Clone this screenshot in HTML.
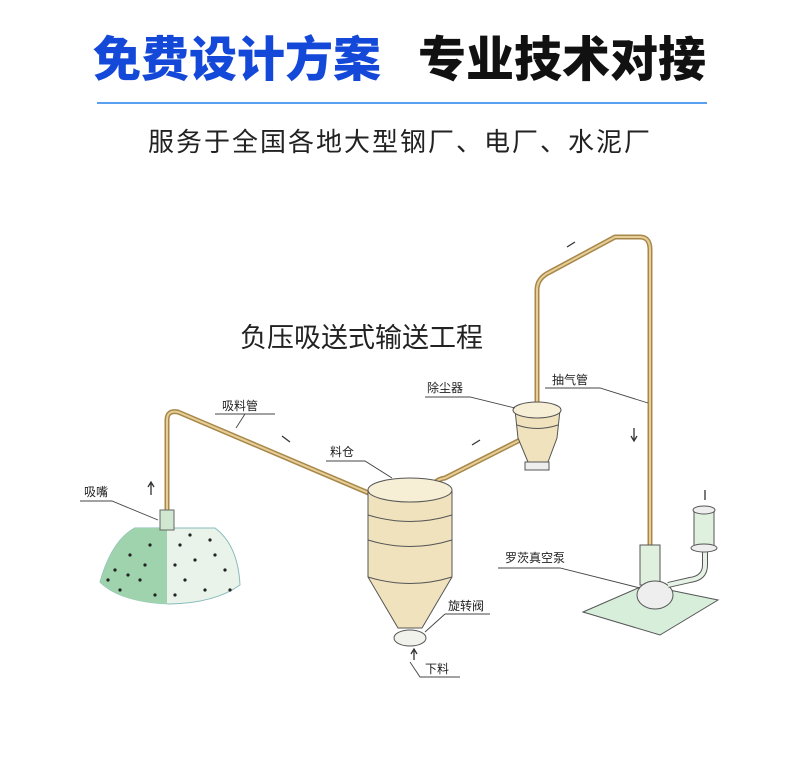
<!DOCTYPE html>
<html><head><meta charset="utf-8"><style>
body{margin:0;width:790px;height:773px;background:#fff;overflow:hidden;position:relative;font-family:"Liberation Sans","Noto Sans CJK SC",sans-serif}
.t{position:absolute;white-space:nowrap}
</style></head><body>
<div class="t" style="left:93px;top:20px;font-size:48px;font-weight:900;color:#1448d8;letter-spacing:0px">免费设计方案</div>
<div class="t" style="left:418px;top:20px;font-size:48px;font-weight:900;color:#111">专业技术对接</div>
<div style="position:absolute;left:97px;top:102px;width:610px;height:2px;background:#5aa0f0"></div>
<div class="t" style="left:148px;top:122px;font-size:26px;color:#222;letter-spacing:2px">服务于全国各地大型钢厂、电厂、水泥厂</div>
<svg width="790" height="773" style="position:absolute;left:0;top:0" font-family="Liberation Sans,Noto Sans CJK SC,sans-serif">
<text x="240" y="347" font-size="27" fill="#222">负压吸送式输送工程</text>
<!-- pile -->
<path d="M100,582 Q112,540 135,528 L215,528 Q238,545 240,585 Q215,603 170,604 Q120,602 100,582Z" fill="#e9f3ea" stroke="#8bb"/>
<path d="M100,582 Q112,540 135,528 L167,528 L167,604 Q120,602 100,582Z" fill="#9fd3ad"/>
<g fill="#222">
<circle cx="115" cy="570" r="1.6"/><circle cx="130" cy="555" r="1.6"/><circle cx="140" cy="580" r="1.6"/><circle cx="150" cy="545" r="1.6"/><circle cx="120" cy="590" r="1.6"/><circle cx="155" cy="595" r="1.6"/><circle cx="145" cy="565" r="1.6"/><circle cx="128" cy="575" r="1.6"/><circle cx="180" cy="545" r="1.6"/><circle cx="195" cy="560" r="1.6"/><circle cx="210" cy="540" r="1.6"/><circle cx="185" cy="580" r="1.6"/><circle cx="205" cy="590" r="1.6"/><circle cx="225" cy="570" r="1.6"/><circle cx="175" cy="595" r="1.6"/><circle cx="215" cy="555" r="1.6"/><circle cx="230" cy="590" r="1.6"/><circle cx="190" cy="535" r="1.6"/><circle cx="175" cy="565" r="1.6"/><circle cx="108" cy="580" r="1.6"/>
</g>
<!-- pipes -->
<g fill="none" stroke="#a8874a" stroke-width="5" stroke-linejoin="round">
<path d="M167,512 L167,420 Q167,410 178,412 L385,500"/>
<path d="M432,492 Q432,480 445,478 L520,440"/>
<path d="M537,405 L537,290 Q537,278 550,272 L615,237 L640,237 Q650,237 650,250 L650,545"/>
</g>
<g fill="none" stroke="#e6cf96" stroke-width="2">
<path d="M167,512 L167,420 Q167,410 178,412 L385,500"/>
<path d="M432,492 Q432,480 445,478 L520,440"/>
<path d="M537,405 L537,290 Q537,278 550,272 L615,237 L640,237 Q650,237 650,250 L650,545"/>
</g>
<!-- nozzle -->
<rect x="160" y="510" width="14" height="20" fill="#cfe8cf" stroke="#666"/>
<!-- bin -->
<path d="M368,490 L368,577 L398,628 L422,628 L452,577 L452,490Z" fill="#efe2bd" stroke="#555"/>
<ellipse cx="410" cy="490" rx="42" ry="12" fill="#f7efd5" stroke="#555"/>
<path d="M368,515 Q410,528 452,515 M368,540 Q410,553 452,540 M368,577 Q410,590 452,577" fill="none" stroke="#555"/>
<ellipse cx="410" cy="638" rx="16" ry="8" fill="#f2f2ec" stroke="#555"/>
<!-- dust collector -->
<path d="M515,410 L518,438 L528,462 L548,462 L557,438 L560,410Z" fill="#efe2bd" stroke="#555"/>
<ellipse cx="537" cy="410" rx="24" ry="8" fill="#f7efd5" stroke="#555"/>
<path d="M517,425 Q537,432 558,425" fill="none" stroke="#555"/>
<rect x="525" y="462" width="24" height="8" fill="#eee" stroke="#555"/>
<!-- pump -->
<path d="M583,612 L645,585 L718,600 L660,635Z" fill="#d7eedb" stroke="#555"/>
<rect x="640" y="545" width="20" height="40" fill="#dff0df" stroke="#555"/>
<ellipse cx="655" cy="595" rx="18" ry="14" fill="#eee" stroke="#555"/>
<path d="M668,585 L690,580 Q705,578 705,565 L705,545" fill="none" stroke="#555" stroke-width="6"/>
<path d="M668,585 L690,580 Q705,578 705,565 L705,545" fill="none" stroke="#e6f2e6" stroke-width="4"/>
<rect x="694" y="510" width="20" height="38" fill="#dff0df" stroke="#555"/>
<ellipse cx="704" cy="510" rx="11" ry="4" fill="#eee" stroke="#555"/>
<ellipse cx="704" cy="548" rx="13" ry="4" fill="#eee" stroke="#555"/>
<!-- arrows -->
<g stroke="#333" stroke-width="1.3" fill="none">
<path d="M151,495 L151,483 M148,487 L151,482 L154,487"/>
<path d="M282,436 L290,442"/>
<path d="M472,445 L480,440"/><path d="M567,247 L575,242"/>
<path d="M634,428 L634,440 M631,436 L634,441 L637,436"/>
<path d="M414,660 L414,650 M411,654 L414,649 L417,654"/>
<path d="M705,500 L705,490"/>
</g>
<!-- labels -->
<g font-size="12" fill="#222">
<text x="222" y="410">吸料管</text><text x="330" y="456">料仓</text><text x="84" y="496">吸嘴</text>
<text x="427" y="392">除尘器</text><text x="552" y="384">抽气管</text><text x="505" y="562">罗茨真空泵</text>
<text x="448" y="610">旋转阀</text><text x="425" y="673">下料</text>
</g>
<g stroke="#444" stroke-width="0.9" fill="none">
<path d="M215,414 L275,414 M245,414 L236,428"/>
<path d="M326,461 L365,461 L392,478"/>
<path d="M80,501 L112,501 L158,520"/>
<path d="M425,397 L470,397 L515,408"/>
<path d="M545,388 L600,388 L648,403"/>
<path d="M498,568 L560,568 L640,588"/>
<path d="M445,614 L490,614 M445,614 L425,632"/>
<path d="M410,662 L420,677 L460,677"/>
</g>
</svg>
</body></html>
